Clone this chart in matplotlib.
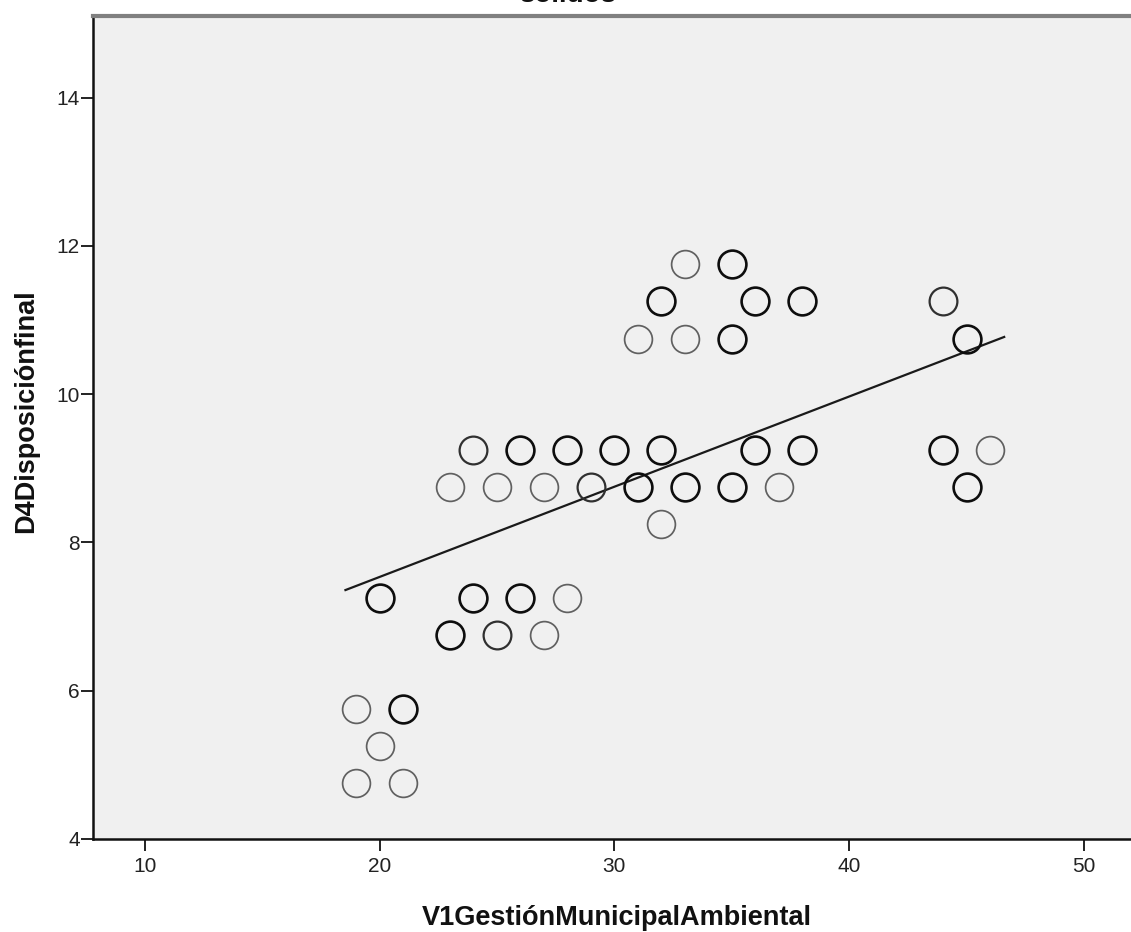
import matplotlib
matplotlib.use("Agg")
import matplotlib.pyplot as plt
import numpy as np

# ---- data ----
x_vals = [33, 35,
          32, 36, 38, 44,
          31, 33, 35, 45,
          24, 26, 28, 30, 32, 36, 38, 44, 46,
          23, 25, 27, 29, 31, 33, 35, 37, 45,
          32,
          20, 24, 26, 28,
          23, 25, 27,
          19, 21,
          20,
          19, 21]
y_vals = [11.75, 11.75,
          11.25, 11.25, 11.25, 11.25,
          10.75, 10.75, 10.75, 10.75,
          9.25, 9.25, 9.25, 9.25, 9.25, 9.25, 9.25, 9.25, 9.25,
          8.75, 8.75, 8.75, 8.75, 8.75, 8.75, 8.75, 8.75, 8.75,
          8.25,
          7.25, 7.25, 7.25, 7.25,
          6.75, 6.75, 6.75,
          5.75, 5.75,
          5.25,
          4.75, 4.75]
# overlap count (darker rings = more cases at the same spot)
counts = [1, 3,
          3, 3, 3, 2,
          1, 1, 3, 3,
          2, 3, 3, 3, 3, 3, 3, 3, 1,
          1, 1, 1, 2, 3, 3, 3, 1, 3,
          1,
          3, 3, 3, 1,
          3, 2, 1,
          1, 3,
          1,
          1, 1]
fit_x_range = [18.55, 46.6]
fit_intercept = 5.10
fit_slope = 0.1217

x_ticks = [10, 20, 30, 40, 50]
y_ticks = [4, 6, 8, 10, 12, 14]

plt.rcParams['font.family'] = ['Liberation Sans', 'DejaVu Sans']

W, H = 1131, 932
fig = plt.figure(figsize=(W / 100, H / 100), dpi=100)
fig.patch.set_facecolor('white')
ax = fig.add_axes([93 / W, (H - 839) / H, (W - 93) / W, (839 - 16) / H])
ax.set_facecolor('#F0F0F0')
ax.set_xlim(7.8, 52.0)
ax.set_ylim(4, 15.1)

edge_map = {1: ('#606060', 1.25), 2: ('#303030', 1.6), 3: ('#0d0d0d', 1.9)}
for xv, yv, c in zip(x_vals, y_vals, counts):
    col, lw = edge_map[c]
    ax.plot([xv], [yv], marker='o', markersize=20, markerfacecolor='none',
            markeredgecolor=col, markeredgewidth=lw, linestyle='none', zorder=3)

fx = np.array(fit_x_range)
ax.plot(fx, fit_intercept + fit_slope * fx, color='#1a1a1a', lw=1.6, zorder=2)

ax.set_xticks(x_ticks)
ax.set_yticks(y_ticks)
ax.tick_params(axis='both', which='major', length=8.6, width=1.4, color='#222',
               labelcolor='#222', labelsize=15)
ax.tick_params(axis='x', pad=4)
ax.tick_params(axis='y', pad=1)

for s in ['left', 'bottom']:
    ax.spines[s].set_color('#111')
    ax.spines[s].set_linewidth(1.8)
ax.spines['top'].set_color('#808080')
ax.spines['top'].set_linewidth(3)
ax.spines['right'].set_visible(False)

fig.text(617 / W, 1 - 925 / H, 'V1GestiónMunicipalAmbiental', ha='center',
         va='baseline', fontsize=19.5, fontweight='bold', color='#111')
fig.text(33 / W, 1 - 411 / H, 'D4Disposiciónfinal', ha='center', va='baseline',
         rotation=90, rotation_mode='anchor', fontsize=19.5, fontweight='bold',
         color='#111')
fig.text(568 / W, 1 - 2 / H, 'sólidos', ha='center', va='baseline',
         fontsize=20, fontweight='bold', color='#111')

fig.savefig('out.png', dpi=100)
